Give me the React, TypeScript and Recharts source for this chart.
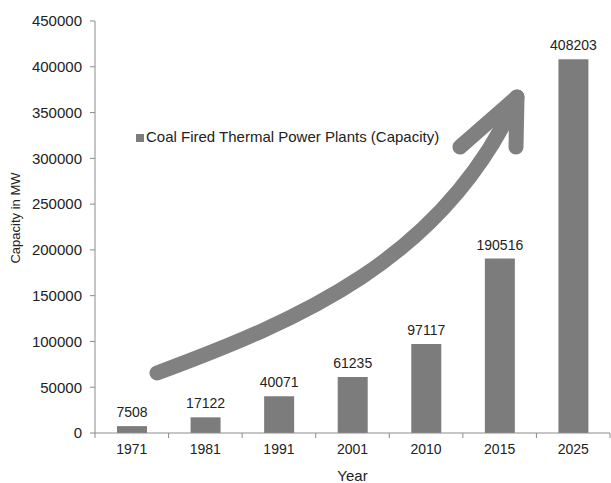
import { BarChart, Bar, XAxis, YAxis, LabelList, Legend, Customized } from "recharts"

const years = ["1971", "1981", "1991", "2001", "2010", "2015", "2025"]
const capacity = [7508, 17122, 40071, 61235, 97117, 190516, 408203]
const yTicks = [0, 50000, 100000, 150000, 200000, 250000, 300000, 350000, 400000, 450000]

const SERIES = "Coal Fired Thermal Power Plants (Capacity)"
const FONT = "'Liberation Sans', Arial, sans-serif"
const BAR = "#7c7c7c"
const AXIS = "#8c8c8c"
const TEXT = "#222"

const data = years.map((year, i) => ({ year, value: capacity[i] }))

interface TickProps {
  x?: number
  y?: number
  width?: number
  index?: number
  visibleTicksCount?: number
  payload?: { value: string }
}

// category labels with tick marks between the bars, like the original
function YearTick({ x = 0, y = 0, width = 0, index = 0, visibleTicksCount = 1, payload }: TickProps) {
  const half = width / visibleTicksCount / 2
  return (
    <g>
      <line x1={x - half} x2={x - half} y1={y - 8} y2={y - 3} stroke={AXIS} />
      {index === visibleTicksCount - 1 && (
        <line x1={x + half} x2={x + half} y1={y - 8} y2={y - 3} stroke={AXIS} />
      )}
      <text x={x} y={y + 13} textAnchor="middle" fontSize={14} fill={TEXT} fontFamily={FONT}>
        {payload?.value}
      </text>
    </g>
  )
}

// the big hand drawn growth arrow
function GrowthArrow() {
  return (
    <g stroke="#7a7a7a" strokeWidth={15} strokeLinecap="round" fill="none" opacity={0.95}>
      <path d="M157,373 C300,320 440,260 514,104" />
      <path d="M517,97 L460,147" />
      <path d="M517,97 L516,147" />
    </g>
  )
}

export default function App() {
  return (
    <div style={{ position: "absolute", left: 0, top: 0, background: "#fff" }}>
      <BarChart
        width={611}
        height={483}
        data={data}
        margin={{ top: 21, right: 1, bottom: 0, left: 0 }}
        barCategoryGap={0}
        style={{ fontFamily: FONT }}
      >
        <XAxis
          dataKey="year"
          height={50}
          stroke={AXIS}
          tickLine={false}
          tick={<YearTick />}
          interval={0}
          label={{ value: "Year", position: "insideBottom", offset: 2, fontSize: 15, fill: TEXT }}
        />
        <YAxis
          width={95}
          domain={[0, 450000]}
          ticks={yTicks}
          interval={0}
          stroke={AXIS}
          tickSize={5}
          tickMargin={8}
          tick={{ fontSize: 15, fill: TEXT }}
          label={{
            value: "Capacity in MW",
            angle: -90,
            position: "insideLeft",
            offset: 15,
            dy: -9,
            fontSize: 13,
            fill: TEXT,
            style: { textAnchor: "middle" },
          }}
        />
        <Legend
          layout="horizontal"
          verticalAlign="middle"
          align="center"
          iconType="square"
          iconSize={8}
          wrapperStyle={{ left: 136, top: 128, width: "auto", height: "auto" }}
          formatter={(value) => (
            <span style={{ color: TEXT, fontSize: 15, marginLeft: -2 }}>{value}</span>
          )}
        />
        <Bar dataKey="value" name={SERIES} fill={BAR} barSize={30} isAnimationActive={false}>
          <LabelList dataKey="value" position="top" offset={9} fontSize={14} fill={TEXT} />
        </Bar>
        <Customized component={GrowthArrow} />
      </BarChart>
    </div>
  )
}
